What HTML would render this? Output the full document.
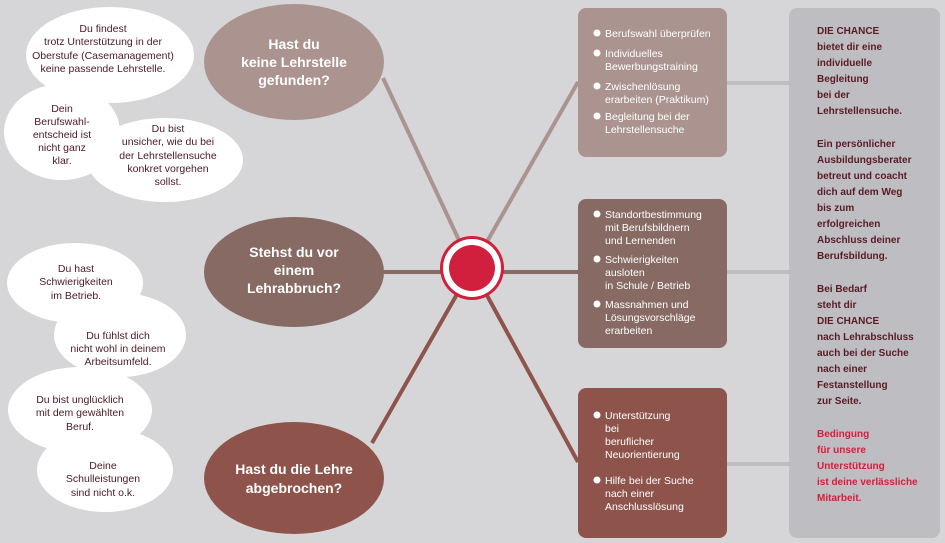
<!DOCTYPE html>
<html><head><meta charset="utf-8"><style>
html,body{margin:0;padding:0;background:#d6d6d8}
svg{display:block}
text{font-family:"Liberation Sans",sans-serif}
.b{font-size:10.5px;fill:#4a1a24;text-anchor:middle}
.t{font-size:14px;font-weight:bold;fill:#fff;text-anchor:middle}
.w{font-size:10.5px;fill:#fff}
.r{font-size:10px;font-weight:bold;fill:#5a1a24}
.rr{font-size:10px;font-weight:bold;fill:#d0203d}
</style></head><body>
<svg width="945" height="543" viewBox="0 0 945 543" xmlns="http://www.w3.org/2000/svg">
<rect width="945" height="543" fill="#d6d6d8"/>
<g stroke-width="4">
<line x1="472" y1="268" x2="383" y2="78" stroke="#ab9490"/>
<line x1="472" y1="268" x2="578" y2="82" stroke="#ab9490"/>
<line x1="300" y1="272" x2="578" y2="272" stroke="#876a64"/>
<line x1="472" y1="268" x2="372" y2="443" stroke="#8e544c"/>
<line x1="472" y1="268" x2="578" y2="462" stroke="#8e544c"/>
<line x1="727" y1="83" x2="790" y2="83" stroke="#bebec2"/>
<line x1="727" y1="272" x2="790" y2="272" stroke="#bebec2"/>
<line x1="727" y1="464" x2="790" y2="464" stroke="#bebec2"/>
</g>
<g fill="#fff">
<ellipse cx="110" cy="55" rx="84" ry="48"/>
<ellipse cx="62" cy="132" rx="58" ry="48"/>
<ellipse cx="165" cy="160" rx="78" ry="42"/>
<ellipse cx="75" cy="283" rx="68" ry="40"/>
<ellipse cx="120" cy="335" rx="66" ry="42"/>
<ellipse cx="80" cy="410" rx="72" ry="43"/>
<ellipse cx="105" cy="470" rx="68" ry="42"/>
</g>
<text class="b"><tspan x="103" y="32">Du findest</tspan><tspan x="103" y="45">trotz Unterstützung in der</tspan><tspan x="103" y="59">Oberstufe  (Casemanagement)</tspan><tspan x="103" y="72">keine passende Lehrstelle.</tspan></text>
<text class="b"><tspan x="62" y="112">Dein</tspan><tspan x="62" y="125">Berufswahl-</tspan><tspan x="62" y="138">entscheid ist</tspan><tspan x="62" y="151">nicht ganz</tspan><tspan x="62" y="164">klar.</tspan></text>
<text class="b"><tspan x="168" y="132">Du bist</tspan><tspan x="168" y="145">unsicher, wie du bei</tspan><tspan x="168" y="159">der Lehrstellensuche</tspan><tspan x="168" y="172">konkret vorgehen</tspan><tspan x="168" y="185">sollst.</tspan></text>
<text class="b"><tspan x="76" y="272">Du hast</tspan><tspan x="76" y="285">Schwierigkeiten</tspan><tspan x="76" y="299">im Betrieb.</tspan></text>
<text class="b"><tspan x="118" y="339">Du fühlst dich</tspan><tspan x="118" y="352">nicht wohl in deinem</tspan><tspan x="118" y="365">Arbeitsumfeld.</tspan></text>
<text class="b"><tspan x="80" y="403">Du bist unglücklich</tspan><tspan x="80" y="416">mit dem gewählten</tspan><tspan x="80" y="430">Beruf.</tspan></text>
<text class="b"><tspan x="103" y="469">Deine</tspan><tspan x="103" y="482">Schulleistungen</tspan><tspan x="103" y="496">sind nicht o.k.</tspan></text>
<ellipse cx="294" cy="62" rx="90" ry="58" fill="#ab9490"/>
<ellipse cx="294" cy="272" rx="90" ry="55" fill="#876a64"/>
<ellipse cx="294" cy="478" rx="90" ry="56" fill="#8e544c"/>
<text class="t"><tspan x="294" y="49">Hast du</tspan><tspan x="294" y="67">keine Lehrstelle</tspan><tspan x="294" y="85">gefunden?</tspan></text>
<text class="t"><tspan x="294" y="257">Stehst du vor</tspan><tspan x="294" y="275">einem</tspan><tspan x="294" y="293">Lehrabbruch?</tspan></text>
<text class="t"><tspan x="294" y="474">Hast du die Lehre</tspan><tspan x="294" y="493">abgebrochen?</tspan></text>
<circle cx="472" cy="268" r="32" fill="#d0203d"/>
<circle cx="472" cy="268" r="29" fill="#fff"/>
<circle cx="472" cy="268" r="23" fill="#d0203d"/>
<rect x="578" y="8" width="149" height="149" rx="8" fill="#ab9490"/>
<rect x="578" y="199" width="149" height="149" rx="8" fill="#876a64"/>
<rect x="578" y="388" width="149" height="150" rx="8" fill="#8e544c"/>
<rect x="789" y="8" width="151" height="530" rx="8" fill="#bebec2"/>
<g fill="#fff">
<circle cx="597" cy="33" r="3.5"/><circle cx="597" cy="53" r="3.5"/><circle cx="597" cy="86" r="3.5"/><circle cx="597" cy="116" r="3.5"/>
<circle cx="597" cy="214" r="3.5"/><circle cx="597" cy="259" r="3.5"/><circle cx="597" cy="304" r="3.5"/>
<circle cx="597" cy="415" r="3.5"/><circle cx="597" cy="480" r="3.5"/>
</g>
<text class="w"><tspan x="605" y="37">Berufswahl überprüfen</tspan><tspan x="605" y="57">Individuelles</tspan><tspan x="605" y="70">Bewerbungstraining</tspan><tspan x="605" y="90">Zwischenlösung</tspan><tspan x="605" y="103">erarbeiten (Praktikum)</tspan><tspan x="605" y="120">Begleitung bei der</tspan><tspan x="605" y="133">Lehrstellensuche</tspan></text>
<text class="w"><tspan x="605" y="218">Standortbestimmung</tspan><tspan x="605" y="231">mit Berufsbildnern</tspan><tspan x="605" y="244">und Lernenden</tspan><tspan x="605" y="263">Schwierigkeiten</tspan><tspan x="605" y="276">ausloten</tspan><tspan x="605" y="289">in Schule / Betrieb</tspan><tspan x="605" y="308">Massnahmen und</tspan><tspan x="605" y="321">Lösungsvorschläge</tspan><tspan x="605" y="334">erarbeiten</tspan></text>
<text class="w"><tspan x="605" y="419">Unterstützung</tspan><tspan x="605" y="432">bei</tspan><tspan x="605" y="445">beruflicher</tspan><tspan x="605" y="458">Neuorientierung</tspan><tspan x="605" y="484">Hilfe bei der Suche</tspan><tspan x="605" y="497">nach einer</tspan><tspan x="605" y="510">Anschlusslösung</tspan></text>
<text class="r"><tspan x="817" y="34">DIE CHANCE</tspan><tspan x="817" y="50">bietet dir eine</tspan><tspan x="817" y="66">individuelle</tspan><tspan x="817" y="82">Begleitung</tspan><tspan x="817" y="98">bei der</tspan><tspan x="817" y="114">Lehrstellensuche.</tspan>
<tspan x="817" y="147">Ein persönlicher</tspan><tspan x="817" y="163">Ausbildungsberater</tspan><tspan x="817" y="179">betreut und coacht</tspan><tspan x="817" y="195">dich auf dem Weg</tspan><tspan x="817" y="211">bis zum</tspan><tspan x="817" y="227">erfolgreichen</tspan><tspan x="817" y="243">Abschluss deiner</tspan><tspan x="817" y="259">Berufsbildung.</tspan>
<tspan x="817" y="292">Bei Bedarf</tspan><tspan x="817" y="308">steht dir</tspan><tspan x="817" y="324">DIE CHANCE</tspan><tspan x="817" y="340">nach Lehrabschluss</tspan><tspan x="817" y="356">auch bei der Suche</tspan><tspan x="817" y="372">nach einer</tspan><tspan x="817" y="388">Festanstellung</tspan><tspan x="817" y="404">zur Seite.</tspan></text>
<text class="rr"><tspan x="817" y="437">Bedingung</tspan><tspan x="817" y="453">für unsere</tspan><tspan x="817" y="469">Unterstützung</tspan><tspan x="817" y="485">ist deine verlässliche</tspan><tspan x="817" y="501">Mitarbeit.</tspan></text>
</svg>
</body></html>
